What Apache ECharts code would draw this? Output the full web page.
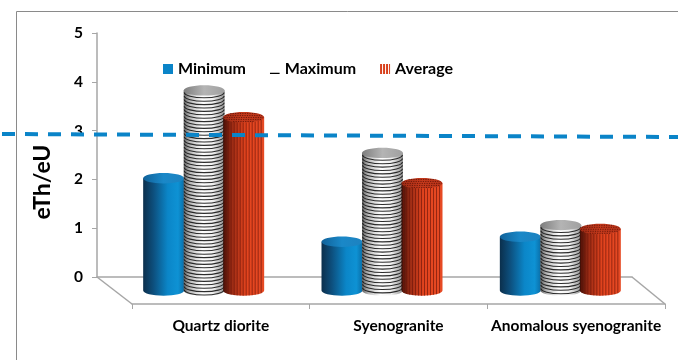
<!DOCTYPE html>
<html>
<head>
<meta charset="utf-8">
<script src="https://cdn.jsdelivr.net/npm/echarts@6/dist/echarts.min.js"></script>
<style>
  html, body { margin: 0; padding: 0; background: #fff; }
  #chart { width: 678px; height: 360px; }
</style>
</head>
<body>
<div id="chart"></div>
<script>
// eTh/eU ratios per rock type
const categories = ['Quartz diorite', 'Syenogranite', 'Anomalous syenogranite'];
const minimum = [2.3, 1.0, 1.1];
const maximum = [4.1, 2.82, 1.34];
const average = [3.55, 2.2, 1.26];
const yTicks = [0, 1, 2, 3, 4, 5];
const referenceRatio = 2.93;

const FONT = 'Lato, "Open Sans", sans-serif';
const DEPTH_DX = 18, DEPTH_DY = 13.5;   // bars stand half-way into the floor
const RX = 20.5, RY = 5.2;              // cylinder radii

const K = 0.5523;
function ellipsePath(cx, cy, rx, ry) {
  return `M${cx - rx},${cy} C${cx - rx},${cy - ry * K} ${cx - rx * K},${cy - ry} ${cx},${cy - ry} ` +
    `C${cx + rx * K},${cy - ry} ${cx + rx},${cy - ry * K} ${cx + rx},${cy} ` +
    `C${cx + rx},${cy + ry * K} ${cx + rx * K},${cy + ry} ${cx},${cy + ry} ` +
    `C${cx - rx * K},${cy + ry} ${cx - rx},${cy + ry * K} ${cx - rx},${cy} Z`;
}
function lowerArc(cx, cy, rx, ry) {
  return `C${cx - rx},${cy + ry * K} ${cx - rx * K},${cy + ry} ${cx},${cy + ry} ` +
    `C${cx + rx * K},${cy + ry} ${cx + rx},${cy + ry * K} ${cx + rx},${cy}`;
}
function bodyPath(cx, ty, by, rx, ry) {
  return `M${cx - rx},${ty} L${cx - rx},${by} ` + lowerArc(cx, by, rx, ry) + ` L${cx + rx},${ty} Z`;
}
function hGrad(stops) {
  return new echarts.graphic.LinearGradient(0, 0, 1, 0, stops.map((c) => ({ offset: c[0], color: c[1] })));
}

const styles = {
  Minimum: {
    body: [[0, '#0b2f4c'], [0.25, '#0d4f7d'], [0.6, '#0b86c8'], [0.85, '#0e92d4'], [1, '#0a6ea8']],
    top: [[0, '#10629a'], [0.5, '#1a88c8'], [1, '#1d82c0']],
    stripes: null
  },
  Maximum: {
    body: [[0, '#5e5e5e'], [0.15, '#b8b8b8'], [0.45, '#ffffff'], [0.72, '#f0f0f0'], [1, '#8e8e8e']],
    top: [[0, '#7e7e7e'], [0.5, '#b4b4b4'], [1, '#a0a0a0']],
    stripes: 'h'
  },
  Average: {
    body: [[0, '#3c0f07'], [0.2, '#992b14'], [0.55, '#e3441e'], [1, '#e64a24']],
    top: [[0, '#a02c16'], [0.5, '#c63a1c'], [1, '#b8341a']],
    stripes: 'v'
  }
};

function makeRender(name, shift) {
  const st = styles[name];
  return function (params, api) {
    const idx = api.value(0);
    const top = api.coord([idx, api.value(1)]);
    const base = api.coord([idx, 0]);
    const cx = top[0] + DEPTH_DX + shift;
    const ty = top[1] + DEPTH_DY;
    const by = base[1] + DEPTH_DY;
    const children = [];
    children.push({
      type: 'path',
      shape: { pathData: bodyPath(cx, ty, by, RX, RY) },
      style: { fill: hGrad(st.body), stroke: null }
    });
    if (st.stripes === 'h') {
      let d = '';
      for (let y = ty + 2.2; y < by; y += 3.4) {
        d += `M${cx - RX + 0.6},${y} ` + lowerArc(cx, y, RX - 0.6, RY) + ' ';
      }
      children.push({
        type: 'path',
        shape: { pathData: d },
        style: { fill: null, stroke: '#161616', lineWidth: 1.1, opacity: 0.9 }
      });
    } else if (st.stripes === 'v') {
      let d = '';
      for (let x = cx - RX + 2; x < cx + RX - 0.5; x += 3) {
        const t = (x - cx) / RX;
        const off = RY * Math.sqrt(Math.max(0, 1 - t * t));
        d += `M${x},${ty + off} L${x},${by + off} `;
      }
      children.push({
        type: 'path',
        shape: { pathData: d },
        style: { fill: null, stroke: '#6e170a', lineWidth: 0.9, opacity: 0.75 }
      });
    }
    children.push({
      type: 'path',
      shape: { pathData: ellipsePath(cx, ty, RX, RY) },
      style: { fill: hGrad(st.top), stroke: null }
    });
    if (st.stripes === 'v') {
      let d = '';
      for (let y = ty - RY + 1.5; y < ty + RY - 0.5; y += 2) {
        const t = (y - ty) / RY;
        const half = RX * Math.sqrt(Math.max(0, 1 - t * t)) - 1;
        if (half > 1) d += `M${cx - half},${y} L${cx + half},${y} `;
      }
      children.push({
        type: 'path',
        shape: { pathData: d },
        style: { fill: null, stroke: '#5a1208', lineWidth: 1, lineDash: [1.2, 1.2], opacity: 0.8 }
      });
    }
    return { type: 'group', children };
  };
}

function seriesFor(name, values, shift) {
  return {
    name,
    type: 'custom',
    xAxisIndex: 0,
    yAxisIndex: 0,
    renderItem: makeRender(name, shift),
    data: values.map((v, i) => [i, v]),
    encode: { x: 0, y: 1 },
    z: 3
  };
}

const chart = echarts.init(document.getElementById('chart'), null, { renderer: 'canvas' });

const axisGray = '#a6a6a6';
chart.setOption({
  backgroundColor: '#ffffff',
  animation: false,
  textStyle: { fontFamily: FONT },
  legend: {
    left: 158,
    top: 56,
    itemWidth: 10,
    itemHeight: 10,
    itemGap: 24,
    textStyle: { fontFamily: FONT, fontWeight: 'bold', fontSize: 16, color: '#000' },
    data: [
      { name: 'Minimum', icon: 'rect', itemStyle: { color: '#0a84c8' } },
      { name: 'Maximum', icon: 'path://M0,0L0.01,0L0.01,0.01ZM0,9L10,9L10,10.4L0,10.4Z', itemStyle: { color: '#000' } },
      { name: 'Average', icon: 'path://M0,0h2v10h-2zM3,0h2v10h-2zM6,0h2v10h-2zM9,0h1v10h-1z', itemStyle: { color: '#d8401c' } }
    ]
  },
  grid: [
    { left: 97, top: 33, width: 535, height: 244, containLabel: false },
    { left: 132, top: 303, width: 533, height: 1, containLabel: false }
  ],
  xAxis: [
    {
      gridIndex: 0, type: 'category', data: categories, boundaryGap: true,
      axisLine: { lineStyle: { color: axisGray, width: 1.5 } },
      axisTick: { show: false }, axisLabel: { show: false }, splitLine: { show: false }
    },
    {
      gridIndex: 1, type: 'category', data: categories, boundaryGap: true, position: 'bottom',
      axisLine: { lineStyle: { color: axisGray, width: 1.5 } },
      axisTick: { show: true, length: 5, lineStyle: { color: axisGray } },
      axisLabel: { interval: 0, margin: 14, fontFamily: FONT, fontWeight: 'bold', fontSize: 15.5, color: '#000' }
    }
  ],
  yAxis: [
    {
      gridIndex: 0, type: 'value', min: yTicks[0], max: yTicks[yTicks.length - 1], interval: 1,
      name: 'eTh/eU', nameLocation: 'middle', nameRotate: 90, nameGap: 43,
      nameTextStyle: { fontFamily: FONT, fontWeight: 'bold', fontSize: 23, color: '#000', padding: [0, 54, 0, 0] },
      axisLine: { show: true, lineStyle: { color: axisGray, width: 1.5 } },
      axisTick: { show: true, length: 5, lineStyle: { color: axisGray } },
      axisLabel: { margin: 14, fontFamily: FONT, fontWeight: 'bold', fontSize: 15.5, color: '#000' },
      splitLine: { show: false }
    },
    { gridIndex: 1, type: 'value', show: false }
  ],
  series: [
    seriesFor('Minimum', minimum, -40.5),
    seriesFor('Maximum', maximum, 0),
    seriesFor('Average', average, 39.5)
  ]
});

// floor edges, outer frame and the reference level
const g0 = chart.getModel().getComponent('grid', 0).coordinateSystem.getRect();
const g1 = chart.getModel().getComponent('grid', 1).coordinateSystem.getRect();
const backY = g0.y + g0.height, frontY = g1.y + g1.height;
const refY = chart.convertToPixel({ yAxisIndex: 0 }, referenceRatio);

chart.setOption({
  graphic: [
    { type: 'rect', shape: { x: 16.5, y: 11.5, width: 700, height: 400 }, style: { fill: null, stroke: '#8a8a8a', lineWidth: 1 }, z: -1 },
    { type: 'line', shape: { x1: g0.x, y1: backY, x2: g1.x, y2: frontY }, style: { stroke: axisGray, lineWidth: 1.5 } },
    { type: 'line', shape: { x1: g0.x + g0.width, y1: backY, x2: g1.x + g1.width, y2: frontY }, style: { stroke: axisGray, lineWidth: 1.5 } },
    { type: 'line', shape: { x1: 2, y1: refY, x2: 678, y2: refY + 3 }, style: { stroke: '#0a84c8', lineWidth: 4, lineDash: [13, 10] }, z: 10 }
  ]
});
</script>
</body>
</html>
